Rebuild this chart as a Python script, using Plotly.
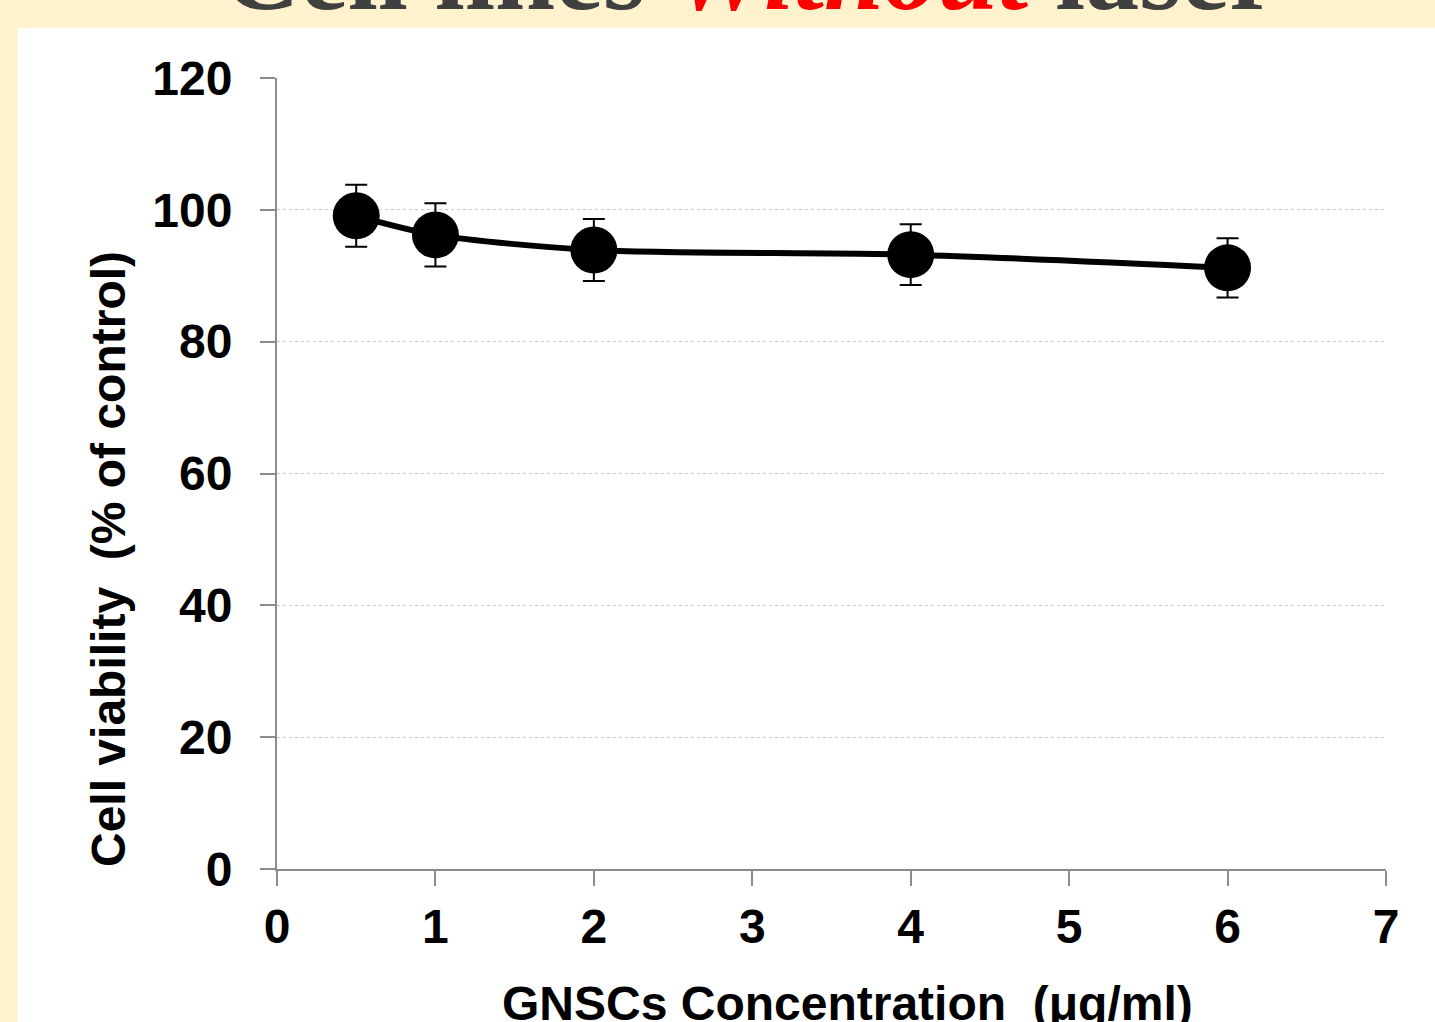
import plotly.graph_objects as go

concentration = [0.5, 1, 2, 4, 6]
viability = [99.1, 96.2, 93.9, 93.2, 91.2]
viability_err = [4.7, 4.8, 4.7, 4.6, 4.5]
x_ticks = [0, 1, 2, 3, 4, 5, 6, 7]
y_ticks = [0, 20, 40, 60, 80, 100, 120]

title_text = "<b>Cell lines <i><span style='color:#ff0000'>Without</span></i> laser</b>"
x_title = "<b>GNSCs Concentration  (μg/ml)</b>"
y_title = "<b>Cell viability  (% of control)</b>"

fig = go.Figure()
fig.add_trace(go.Scatter(
    x=concentration, y=viability,
    mode="lines+markers",
    line=dict(color="black", width=6, shape="spline", smoothing=0.8),
    marker=dict(color="black", size=47),
    error_y=dict(type="data", array=viability_err, visible=True,
                 color="black", thickness=2, width=11),
    showlegend=False,
))

W, H = 1435, 1022
L, R, T, B = 277, 49, 78, 153

axis_font = dict(family="Liberation Sans", size=48, color="black")

fig.update_layout(
    width=W, height=H,
    margin=dict(l=L, r=R, t=T, b=B, pad=0),
    paper_bgcolor="#fff2cc",
    plot_bgcolor="white",
    xaxis=dict(
        range=[0, 7], tickvals=x_ticks, ticktext=[f"<b>{v}</b>" for v in x_ticks],
        showgrid=False, zeroline=False,
        showline=True, linecolor="#8c8c8c", linewidth=2,
        ticks="outside", ticklen=15, tickwidth=2, tickcolor="#8c8c8c",
        tickfont=axis_font, ticklabelstandoff=-1,
    ),
    yaxis=dict(
        range=[0, 120], tickvals=y_ticks, ticktext=[f"<b>{v}</b>" for v in y_ticks],
        showgrid=True, gridcolor="#c8c8c8", gridwidth=1, griddash="dot",
        zeroline=False,
        showline=True, linecolor="#8c8c8c", linewidth=2,
        ticks="outside", ticklen=15, tickwidth=2, tickcolor="#8c8c8c",
        tickfont=axis_font, ticklabelstandoff=18,
    ),
    shapes=[dict(
        type="rect", xref="paper", yref="paper", layer="below",
        x0=(18 - L) / (W - L - R), x1=1.2,
        y0=-0.5, y1=(H - B - 28) / (H - T - B),
        fillcolor="white", line=dict(width=0),
    )],
    annotations=[
        dict(text=title_text, xref="paper", yref="paper",
             x=(749 - L) / (W - L - R), y=(H - B - 34) / (H - T - B),
             xanchor="center", yanchor="bottom", showarrow=False,
             font=dict(family="Liberation Serif", size=108, color="#404040")),
        dict(text=x_title, xref="paper", yref="paper",
             x=(847 - L) / (W - L - R), y=(H - B - 975) / (H - T - B),
             xanchor="center", yanchor="top", showarrow=False,
             font=axis_font),
        dict(text=y_title, xref="paper", yref="paper", textangle=-90,
             x=(108 - L) / (W - L - R), y=(H - B - 559) / (H - T - B),
             xanchor="center", yanchor="middle", showarrow=False,
             font=axis_font),
    ],
)

fig.write_html("out.html", config={"displayModeBar": False},
               post_script="document.body.style.margin='0';")
